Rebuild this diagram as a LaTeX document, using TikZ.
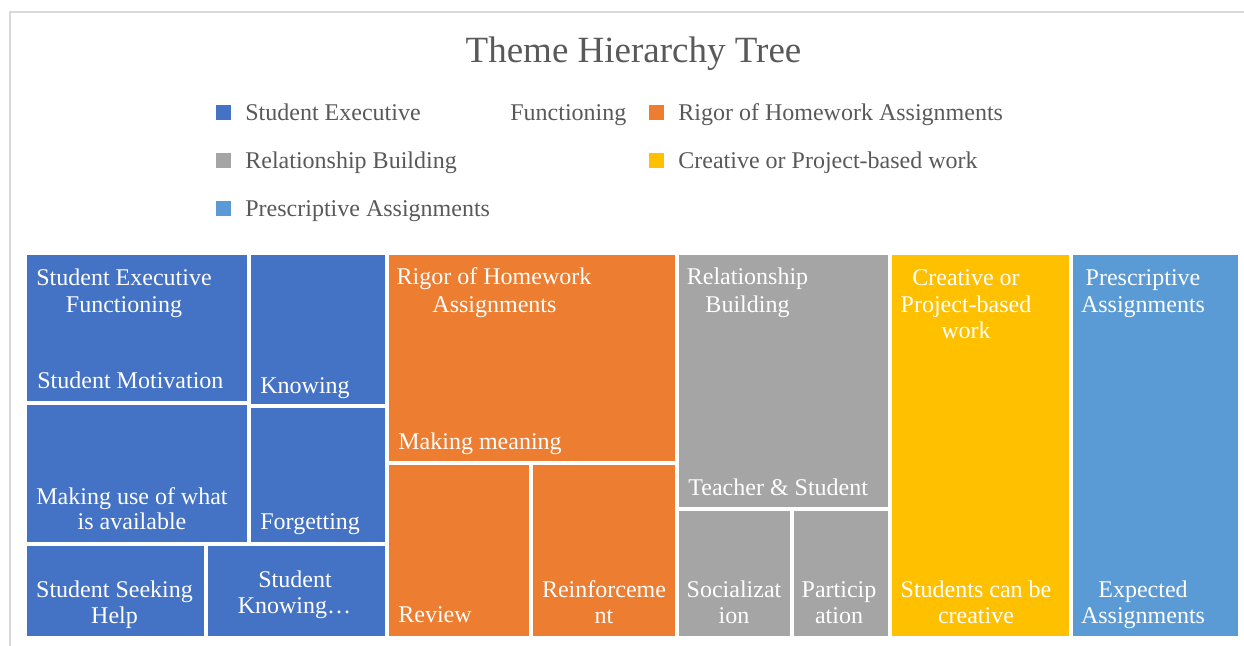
\documentclass[tikz,border=0pt]{standalone}
\usepackage{fontspec}
\setmainfont{Liberation Serif}
\definecolor{sefblue}{HTML}{4472C4}
\definecolor{rigororange}{HTML}{ED7D31}
\definecolor{relgray}{HTML}{A5A5A5}
\definecolor{creayellow}{HTML}{FFC000}
\definecolor{presblue}{HTML}{5B9BD5}
\definecolor{keytextgray}{HTML}{595959}
\definecolor{framegray}{HTML}{D9D9D9}
\tikzset{
  lbl/.style={anchor=base,inner sep=0pt,yshift=-0.7pt,text=white,font=\fontsize{12}{14}\selectfont},
  lblw/.style={lbl,anchor=base west},
  keytext/.style={anchor=base west,inner sep=0pt,yshift=-0.6pt,text=keytextgray,font=\fontsize{12}{14}\selectfont},
}
\begin{document}
\begin{tikzpicture}[x=0.5pt,y=-0.5pt]
   \useasboundingbox (0,0) rectangle (1244,646);
   % chart frame
   \draw [framegray,line width=1.2pt] (10,646) -- (10,12) -- (1244,12);
   \node [anchor=base,inner sep=0pt,yshift=-0.6pt,text=keytextgray,font=\fontsize{18.5}{22}\selectfont] (title) at (633.5,61) {Theme Hierarchy Tree};
   % legend
   \fill [sefblue] (216,105) rectangle (231,120);
   \fill [rigororange] (649,105) rectangle (664,120);
   \fill [relgray] (216,153) rectangle (231,168);
   \fill [creayellow] (649,153) rectangle (664,168);
   \fill [presblue] (216,201) rectangle (231,216);
   \node [keytext] (keysef) at (245,119.5) {Student Executive};
   \node [keytext] (keysefb) at (510,119.5) {Functioning};
   \node [keytext] (keyrig) at (678,119.5) {Rigor of Homework Assignments};
   \node [keytext] (keyrel) at (245,167.5) {Relationship Building};
   \node [keytext] (keycre) at (678,167.5) {Creative or Project-based work};
   \node [keytext] (keypre) at (245,215.5) {Prescriptive Assignments};
   % tiles
   \fill [sefblue] (27,255) rectangle (247,401);
   \fill [sefblue] (251,255) rectangle (385,404);
   \fill [sefblue] (27,405) rectangle (247,542);
   \fill [sefblue] (251,408) rectangle (385,542);
   \fill [sefblue] (27,546) rectangle (204,636);
   \fill [sefblue] (208,546) rectangle (385,636);
   \fill [rigororange] (389,255) rectangle (675,461);
   \fill [rigororange] (389,465) rectangle (529,636);
   \fill [rigororange] (533,465) rectangle (675,636);
   \fill [relgray] (679,255) rectangle (888,507);
   \fill [relgray] (679,511) rectangle (790,636);
   \fill [relgray] (794,511) rectangle (888,636);
   \fill [creayellow] (892,255) rectangle (1069,636);
   \fill [presblue] (1073,255) rectangle (1238,636);
   % tile labels
   \node [lbl] (sefa) at (124,284) {Student Executive};
   \node [lbl] (sefb) at (124,311) {Functioning};
   \node [lblw] (motiv) at (37,387) {Student Motivation};
   \node [lblw] (know) at (260,392) {Knowing};
   \node [lbl] (usea) at (132,503) {Making use of what};
   \node [lbl] (useb) at (132,528) {is available};
   \node [lblw] (forget) at (260,528) {Forgetting};
   \node [lbl] (seeka) at (114.5,596) {Student Seeking};
   \node [lbl] (seekb) at (114.5,622.5) {Help};
   \node [lbl] (knowa) at (295,586) {Student};
   \node [lbl] (knowb) at (294.5,612.5) {Knowing…};
   \node [lbl] (riga) at (494,283.5) {Rigor of Homework};
   \node [lbl] (rigb) at (494.5,311) {Assignments};
   \node [lblw] (meaning) at (398,448) {Making meaning};
   \node [lblw] (review) at (398,621) {Review};
   \node [lbl] (reina) at (604,596) {Reinforceme};
   \node [lbl] (reinb) at (604,622) {nt};
   \node [lbl] (rela) at (747.5,283.5) {Relationship};
   \node [lbl] (relb) at (747.5,311) {Building};
   \node [lblw] (teach) at (688,494) {Teacher \& Student};
   \node [lbl] (soca) at (734,596) {Socializat};
   \node [lbl] (socb) at (734,622) {ion};
   \node [lbl] (para) at (839,596) {Particip};
   \node [lbl] (parb) at (839,622) {ation};
   \node [lbl] (crea) at (966,284) {Creative or};
   \node [lbl] (creb) at (966,311) {Project-based};
   \node [lbl] (crec) at (966,337) {work};
   \node [lbl] (cand) at (976,596) {Students can be};
   \node [lbl] (cane) at (976,622) {creative};
   \node [lbl] (prea) at (1143,284) {Prescriptive};
   \node [lbl] (preb) at (1143,311) {Assignments};
   \node [lbl] (expa) at (1143,596) {Expected};
   \node [lbl] (expb) at (1143,622) {Assignments};
\end{tikzpicture}
\end{document}
